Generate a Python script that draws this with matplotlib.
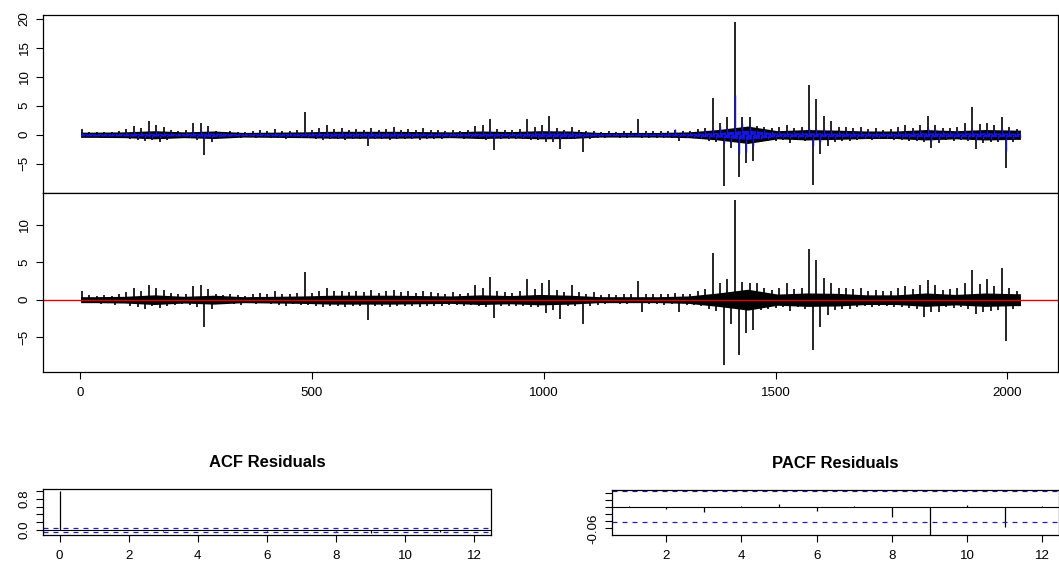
import matplotlib

matplotlib.use("Agg")

import matplotlib.pyplot as plt
import numpy as np

plt.rcParams["font.family"] = ["Liberation Sans", "DejaVu Sans"]

# spikes: (high, low) per block of 16 observations
BLOCK = 16
# dense core of the series: half-width per block of 64 observations
BAND = 64

returns_hi = [1.0, 0.5, 0.4, 0.5, 0.4, 0.6, 1.0, 1.5, 1.2, 2.4,
              1.6, 1.3, 0.8, 0.6, 0.8, 2.0, 2.1, 1.5, 0.7, 0.5,
              0.6, 0.5, 0.5, 0.6, 0.9, 0.7, 1.0, 0.6, 0.7, 0.8,
              3.9, 0.8, 1.2, 1.7, 1.0, 1.1, 0.9, 1.0, 0.9, 1.2,
              0.8, 1.0, 1.4, 0.9, 1.0, 0.8, 1.1, 0.9, 0.8, 0.7,
              0.9, 0.7, 0.8, 1.5, 1.6, 2.8, 1.0, 0.9, 0.8, 1.0,
              2.7, 1.3, 1.7, 3.3, 1.2, 0.9, 1.4, 0.9, 0.7, 0.6,
              0.5, 0.6, 0.5, 0.6, 0.6, 2.7, 0.7, 0.6, 0.6, 0.7,
              0.8, 0.6, 0.7, 1.0, 1.2, 6.4, 2.0, 3.0, 19.5, 3.1,
              3.1, 1.5, 1.3, 1.1, 1.3, 1.7, 1.2, 1.4, 8.5, 6.1,
              3.3, 2.4, 1.4, 1.3, 1.2, 1.3, 1.0, 1.1, 0.9, 1.0,
              1.3, 1.6, 1.2, 1.6, 3.3, 1.7, 1.1, 1.2, 1.3, 2.0,
              4.7, 1.8, 2.0, 1.6, 3.0, 1.4, 1.0]
returns_lo = [-0.4, -0.4, -0.5, -0.3, -0.5, -0.4, -0.8, -0.9, -1.0, -0.9,
              -1.3, -0.9, -0.6, -0.5, -0.6, -0.9, -3.5, -1.3, -0.6, -0.5,
              -0.5, -0.6, -0.4, -0.5, -0.4, -0.5, -0.6, -0.7, -0.5, -0.6,
              -0.6, -0.7, -0.9, -0.8, -0.7, -0.9, -0.7, -0.8, -1.9, -0.8,
              -0.7, -0.9, -0.8, -0.8, -0.7, -0.9, -0.8, -0.7, -0.7, -0.6,
              -0.6, -0.7, -0.6, -0.7, -0.9, -2.6, -0.8, -0.8, -0.7, -0.8,
              -0.9, -0.9, -1.2, -1.3, -2.5, -0.8, -0.8, -2.9, -0.8, -0.6,
              -0.5, -0.4, -0.5, -0.5, -0.4, -0.6, -0.5, -0.5, -0.6, -0.5,
              -1.0, -0.6, -0.6, -0.8, -1.0, -1.3, -8.9, -2.3, -7.2, -4.8,
              -4.5, -1.2, -1.0, -1.0, -0.9, -1.4, -0.9, -1.0, -8.7, -3.4,
              -2.0, -1.2, -1.0, -1.0, -0.9, -0.8, -0.9, -0.8, -0.7, -0.9,
              -0.9, -1.0, -1.1, -1.3, -2.3, -1.5, -0.9, -1.0, -0.9, -1.1,
              -2.5, -1.5, -1.3, -1.2, -5.8, -1.2, -0.8]
returns_band = [0.45, 0.5, 0.7, 0.5, 0.65, 0.4, 0.45, 0.5,
                0.6, 0.6, 0.6, 0.55, 0.5, 0.65, 0.55, 0.7,
                0.65, 0.4, 0.4, 0.4, 0.5, 0.9, 1.5, 0.7,
                0.9, 0.8, 0.65, 0.65, 0.9, 0.7, 0.9, 0.8]

fitted_hi = [0.5, 0.3, 0.2, 0.3, 0.3, 0.3,
             0.4, 0.6, 0.5, 0.6, 0.7, 0.5,
             0.4, 0.3, 0.4, 0.6, 0.8, 0.6,
             0.3, 0.3, 0.3, 0.3, 0.3, 0.3, 0.4, 0.3, 0.4, 0.3, 0.4, 0.4,
             0.6, 0.5, 0.6, 0.6, 0.5, 0.6, 0.5, 0.5, 0.5, 0.6, 0.5, 0.5,
             0.6, 0.5, 0.5, 0.5, 0.5, 0.4, 0.4, 0.4, 0.4, 0.4, 0.4, 0.5,
             0.6, 0.8, 0.5, 0.5, 0.5, 0.5, 0.7, 0.6, 0.7, 0.8, 0.7, 0.6,
             0.6, 0.5, 0.4, 0.4, 0.3, 0.3, 0.3, 0.3, 0.3, 0.5, 0.4, 0.3,
             0.4, 0.4, 1.0, 0.4, 0.5, 0.5, 0.8, 1.0, 1.5, 1.2, 6.8, 2.0,
             1.5, 0.8, 0.8, 0.7, 0.7, 0.7, 0.6, 0.6, 1.2, 1.0, 1.0, 0.8,
             0.7, 0.6, 0.6, 0.6, 0.6, 0.5, 0.5, 0.5, 0.7, 0.7, 0.8, 0.8,
             1.1, 1.0, 0.7, 0.7, 0.8, 0.8, 1.0, 0.9, 0.9, 0.8, 1.0, 0.8, 0.6]
fitted_lo = [-0.3, -0.3, -0.2, -0.3, -0.3, -0.2,
             -0.4, -0.5, -0.5, -0.6, -0.6, -0.4,
             -0.3, -0.3, -0.4, -0.5, -0.7, -0.5,
             -0.4, -0.3, -0.3, -0.3, -0.3, -0.3, -0.3, -0.3, -0.4, -0.4, -0.3, -0.4,
             -0.4, -0.4, -0.5, -0.5, -0.5, -0.5, -0.5, -0.4, -0.7, -0.5, -0.5, -0.4,
             -0.5, -0.4, -0.5, -0.4, -0.5, -0.4, -0.4, -0.4, -0.4, -0.3, -0.4, -0.4,
             -0.6, -0.7, -0.5, -0.5, -0.5, -0.5, -0.6, -0.5, -0.6, -0.7, -0.8, -0.6,
             -0.5, -0.6, -0.4, -0.4, -0.3, -0.3, -0.3, -0.3, -0.3, -0.3, -0.3, -0.3,
             -0.4, -0.3, -0.4, -0.4, -0.5, -0.5, -0.7, -0.8, -1.5, -1.2, -3.4, -3.0,
             -2.0, -0.8, -0.7, -0.6, -0.6, -0.6, -0.6, -0.6, -1.9, -1.2, -0.8, -0.7,
             -0.6, -0.6, -0.6, -0.5, -0.5, -0.5, -0.5, -0.5, -0.6, -0.6, -0.7, -0.7,
             -1.0, -0.9, -0.6, -0.6, -0.7, -0.7, -0.9, -0.8, -0.8, -0.7, -2.8, -0.8, -0.5]
fitted_band = [0.2, 0.2, 0.25, 0.2, 0.3, 0.17, 0.2, 0.2,
               0.25, 0.25, 0.25, 0.2, 0.2, 0.25, 0.2, 0.3,
               0.3, 0.17, 0.17, 0.17, 0.2, 0.4, 0.8, 0.3,
               0.35, 0.3, 0.25, 0.25, 0.35, 0.3, 0.35, 0.3]

resid_hi = [1.2, 0.6, 0.5, 0.6, 0.5, 0.7, 1.0, 1.6, 1.1, 1.9,
            1.5, 1.3, 0.9, 0.7, 0.8, 1.8, 1.9, 1.4, 0.8, 0.6,
            0.7, 0.6, 0.5, 0.7, 0.9, 0.8, 1.1, 0.7, 0.8, 0.9,
            3.7, 0.9, 1.2, 1.6, 1.1, 1.2, 1.0, 1.1, 1.0, 1.3,
            0.9, 1.1, 1.3, 1.0, 1.1, 0.9, 1.2, 1.0, 0.9, 0.8,
            1.0, 0.8, 0.9, 1.9, 1.5, 3.0, 1.1, 1.0, 0.9, 1.1,
            2.8, 1.4, 2.2, 2.7, 1.3, 1.0, 1.9, 1.0, 0.8, 1.0,
            0.6, 0.7, 0.6, 0.7, 0.7, 2.5, 0.8, 0.7, 0.7, 0.8,
            0.9, 0.7, 0.8, 1.1, 1.4, 6.2, 2.2, 2.8, 13.4, 2.4,
            2.2, 2.2, 1.5, 1.3, 1.5, 2.2, 1.4, 1.6, 6.8, 5.3,
            2.9, 2.2, 1.6, 1.5, 1.4, 1.5, 1.2, 1.3, 1.1, 1.2,
            1.5, 1.8, 1.4, 1.9, 2.6, 2.0, 1.3, 1.4, 1.5, 2.3,
            4.0, 2.1, 2.8, 1.8, 4.3, 1.6, 1.2]
resid_lo = [-0.4, -0.5, -0.6, -0.4, -0.7, -0.5, -0.9, -1.0, -1.2, -0.8,
            -1.1, -0.9, -0.7, -0.6, -0.7, -1.0, -3.7, -1.3, -0.6, -0.5,
            -0.6, -0.7, -0.5, -0.6, -0.5, -0.6, -0.7, -0.8, -0.6, -0.7,
            -0.7, -0.8, -1.0, -0.9, -0.8, -1.0, -0.8, -0.9, -2.7, -0.9,
            -0.8, -1.0, -0.9, -0.9, -0.8, -1.0, -0.9, -0.8, -0.8, -0.7,
            -0.7, -0.8, -0.7, -0.8, -1.0, -2.5, -0.9, -0.9, -0.8, -0.9,
            -1.0, -1.0, -1.8, -1.4, -2.6, -0.9, -0.9, -3.2, -0.9, -0.7,
            -0.6, -0.5, -0.6, -0.6, -0.5, -1.7, -0.6, -0.6, -0.7, -0.6,
            -1.7, -0.7, -0.7, -0.9, -1.2, -1.5, -8.8, -3.2, -7.4, -4.4,
            -4.0, -1.4, -1.2, -1.1, -1.0, -1.5, -1.0, -1.2, -6.8, -3.6,
            -2.0, -1.4, -1.2, -1.2, -1.0, -0.9, -1.0, -0.9, -0.8, -1.0,
            -1.0, -1.1, -1.3, -2.3, -1.6, -1.6, -1.0, -1.1, -1.0, -1.2,
            -1.9, -1.7, -1.5, -1.4, -5.5, -1.3, -0.9]
resid_band = [0.4, 0.45, 0.65, 0.45, 0.6, 0.4, 0.45, 0.5,
              0.6, 0.6, 0.6, 0.55, 0.5, 0.65, 0.55, 0.7,
              0.6, 0.4, 0.4, 0.4, 0.5, 0.9, 1.4, 0.75,
              0.9, 0.85, 0.65, 0.65, 0.9, 0.7, 0.9, 0.8]

acf_lags = list(range(0, 13))
acf_vals = [1.0, 0.002, -0.005, -0.014, 0.001, 0.009, -0.011, 0.002,
            -0.029, -0.078, 0.005, -0.055, 0.001]
pacf_lags = list(range(1, 13))
pacf_vals = [0.002, -0.005, -0.014, 0.001, 0.009, -0.011, 0.002,
             -0.029, -0.078, 0.005, -0.055, 0.001]
n_obs = 2028


def draw_series(ax, hi, lo, band, color, lw=1.2):
    start = np.arange(len(hi)) * BLOCK
    ax.vlines(start + 4, 0, hi, color=color, lw=lw)
    ax.vlines(start + 12, lo, 0, color=color, lw=lw)
    band = np.asarray(band)
    mid = np.arange(len(band)) * BAND + BAND / 2
    xs = np.concatenate([[1], mid, [n_obs]])
    hw = np.concatenate([[band[0]], band, [band[-1]]])
    ax.fill_between(xs, hw, -hw, color=color, lw=0)


W, H = 1059, 571
fig = plt.figure(figsize=(W / 100, H / 100), dpi=100)


def px_axes(left, top, right, bottom):
    return fig.add_axes([left / W, 1 - bottom / H, (right - left) / W, (bottom - top) / H])


ax1 = px_axes(43, 15, 1058, 193)
ax2 = px_axes(43, 193, 1058, 372)
ax3 = px_axes(43, 489, 491, 535)
ax4 = px_axes(612, 490, 1059, 535)

draw_series(ax1, returns_hi, returns_lo, returns_band, "black")
draw_series(ax1, fitted_hi, fitted_lo, fitted_band, "#1414dc", lw=1.0)

draw_series(ax2, resid_hi, resid_lo, resid_band, "black")
ax2.axhline(0, color="#e00000", lw=1.0)

# R style: 4% padding around the data range
for ax, hi, lo in ((ax1, returns_hi, returns_lo), (ax2, resid_hi, resid_lo)):
    ymin, ymax = min(lo), max(hi)
    pad = 0.04 * (ymax - ymin)
    ax.set_ylim(ymin - pad, ymax + pad)
    ax.set_xlim(1 - 0.04 * (n_obs - 1), n_obs + 0.04 * (n_obs - 1))

ax1.set_yticks([-5, 0, 5, 10, 15, 20])
ax1.set_xticks([])
ax2.set_yticks([-5, 0, 5, 10])
ax2.set_xticks([0, 500, 1000, 1500, 2000])

clim = 1.96 / np.sqrt(n_obs)
dash_color = "#2020a8"

ax3.vlines(acf_lags, 0, acf_vals, color="black", lw=0.9)
ax3.axhline(0, color="black", lw=0.8)
for c in (clim, -clim):
    ax3.axhline(c, color=dash_color, lw=0.9, ls=(0, (4, 4)))
ax3.set_xlim(-0.48, 12.48)
ax3.set_ylim(-0.121, 1.043)
ax3.set_xticks(range(0, 13, 2))
ax3.set_yticks([0.0, 0.2, 0.4, 0.6, 0.8, 1.0])
ax3.set_yticklabels(["0.0", "", "", "", "0.8", ""])
ax3.set_title("ACF Residuals", fontsize=12, fontweight="bold", pad=16)

ax4.vlines(pacf_lags, 0, pacf_vals, color="black", lw=0.9)
ax4.axhline(0, color="black", lw=0.8)
for c in (clim, -clim):
    ax4.axhline(c, color=dash_color, lw=0.9, ls=(0, (4, 4)))
ax4.set_xlim(0.56, 12.44)
ax4.set_ylim(-0.0785, 0.047)
ax4.set_xticks(range(2, 13, 2))
ax4.set_yticks([0.04, 0.02, 0.0, -0.02, -0.04, -0.06])
ax4.set_yticklabels(["", "", "", "", "", "-0.06"])
ax4.set_title("PACF Residuals", fontsize=12, fontweight="bold", pad=16)

for ax in (ax1, ax2, ax3, ax4):
    ax.tick_params(direction="out", length=5, width=0.8, labelsize=9.6, color="black")
    ax.tick_params(axis="y", labelrotation=90, pad=4)
    ax.tick_params(axis="x", pad=6)
    for lab in ax.get_yticklabels():
        lab.set_verticalalignment("center")
    for s in ax.spines.values():
        s.set_linewidth(0.9)

fig.savefig("out.png", dpi=100)
